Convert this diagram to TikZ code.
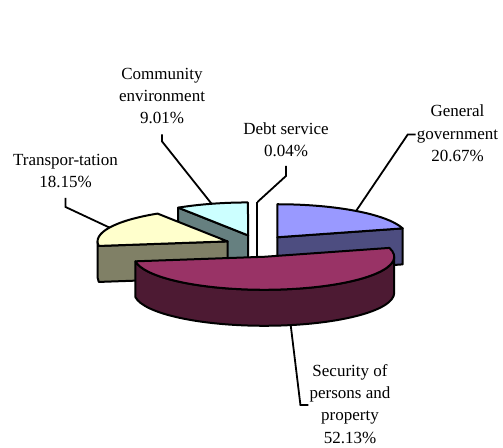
\documentclass[tikz,border=0pt]{standalone}
\usepackage{fontspec}
\setmainfont{Liberation Serif}
\usetikzlibrary{calc}
\definecolor{genTop}{HTML}{9999FF}
\definecolor{genSide}{HTML}{4D4D80}
\definecolor{secTop}{HTML}{993366}
\definecolor{secSide}{HTML}{4D1A33}
\definecolor{trTop}{HTML}{FFFFCC}
\definecolor{trSide}{HTML}{808066}
\definecolor{cmTop}{HTML}{CCFFFF}
\definecolor{cmSide}{HTML}{668080}
\begin{document}
\begin{tikzpicture}[x=1pt,y=1pt,
  face/.style={draw=black, line width=2pt, line join=round},
  leader/.style={draw=black, line width=1.8pt},
  lbl/.style={align=center, inner sep=0pt, anchor=north, font=\fontsize{17}{22.4}\selectfont},
  ell/.style={x radius=130, y radius=33}]
\useasboundingbox (0,0) rectangle (503,-447);
\coordinate (O) at (257.5,-246);
\coordinate (G)  at ($(O)+(52.79:33 and 11)$);
\coordinate (S)  at ($(O)+(-78.25:33 and 11)$);
\coordinate (T)  at ($(O)+(155.25:33 and 11)$);
\coordinate (Cm) at ($(O)+(106.36:33 and 11)$);
\coordinate (D)  at ($(O)+(90.07:33 and 11)$);
% debt service
\draw[face] ($(D)+(0,33)$) -- ($(D)+(0,-36)$);
% community environment
\filldraw[face, fill=cmSide] (Cm) -- ($(Cm)+(122.58:130 and 33)$) -- ++(0,-36) -- ($(Cm)+(0,-36)$) -- cycle;
\filldraw[face, fill=cmTop] (Cm) -- ($(Cm)+(122.58:130 and 33)$) arc[start angle=122.58, end angle=90.144, ell] -- cycle;
% general government
\filldraw[face, fill=genSide] (G) -- ($(G)+(15.588:130 and 33)$) -- ++(0,-36) -- ($(G)+(0,-36)$) -- cycle;
\filldraw[face, fill=genTop] (G) -- ($(G)+(90:130 and 33)$) arc[start angle=90, end angle=15.588, ell] -- cycle;
% transportation
\filldraw[face, fill=trSide] (T) -- ($(T)+(-172.08:130 and 33)$) arc[start angle=-172.08, end angle=-180, ell] -- ++(0,-36) arc[start angle=-180, end angle=-172.08, ell] -- ($(T)+(0,-36)$) -- cycle;
\filldraw[face, fill=trTop] (T) -- ($(T)+(-172.08:130 and 33)$) arc[start angle=-172.08, end angle=-237.42, ell] -- cycle;
% security
\filldraw[face, fill=secSide] ($(S)+(0:130 and 33)$) -- ++(0,-36) arc[start angle=0, end angle=-172.08, ell] -- ++(0,36) arc[start angle=-172.08, end angle=0, ell] -- cycle;
\filldraw[face, fill=secTop] (S) -- ($(S)+(15.588:130 and 33)$) arc[start angle=15.588, end angle=-172.08, ell] -- cycle;
% labels
\node[lbl] (lcm) at (162,-63.25) {\strut Community\\environment\\9.01\%};
\node[lbl] (ldebt) at (286,-118.25) {\strut Debt service\\0.04\%};
\node[lbl] (lgen) at (457.5,-101) {\strut General\\government\\20.67\%};
\node[lbl] (ltr) at (65.5,-149.25) {\strut Transpor-tation\\18.15\%};
\node[lbl] (lsec) at (350,-360.25) {\strut Security of\\persons and\\property\\52.13\%};
% leader end points
\coordinate (ecm) at ($(Cm)+(106.36:130 and 33)$);
\coordinate (edebt) at ($(D)+(90:130 and 33)$);
\coordinate (egen) at ($(G)+(52.79:130 and 33)$);
\coordinate (etr) at ($(T)+(155.25:130 and 33)$);
\coordinate (esec) at ($(S)+(-78.25:130 and 33)+(0,-36)$);
% leaders
\draw[leader] ([yshift=-10]lcm.south) -- ++(0,-7) -- (ecm);
\draw[leader] ([yshift=-9]ldebt.south) -- ++(0,-10) -- (edebt);
\draw[leader] ([xshift=-1,yshift=-3]lgen.west) -- ++(-8,0) -- (egen);
\draw[leader] ([yshift=-10]ltr.south) -- ++(0,-9) -- (etr);
\draw[leader] (esec) -- ([xshift=-9,yshift=-3]lsec.west) -- ([xshift=-1,yshift=-3]lsec.west);
\end{tikzpicture}
\end{document}
